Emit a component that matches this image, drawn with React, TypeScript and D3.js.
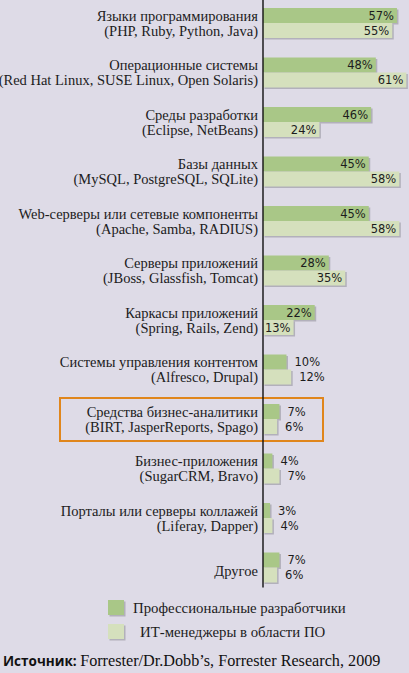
import React, { useEffect, useRef } from 'react';
import * as d3 from 'd3';

const categories = [
  'Языки программирования',
  'Операционные системы',
  'Среды разработки',
  'Базы данных',
  'Web-серверы или сетевые компоненты',
  'Серверы приложений',
  'Каркасы приложений',
  'Системы управления контентом',
  'Средства бизнес-аналитики',
  'Бизнес-приложения',
  'Порталы или серверы коллажей',
  'Другое',
];

const examples = [
  '(PHP, Ruby, Python, Java)',
  '(Red Hat Linux, SUSE Linux, Open Solaris)',
  '(Eclipse, NetBeans)',
  '(MySQL, PostgreSQL, SQLite)',
  '(Apache, Samba, RADIUS)',
  '(JBoss, Glassfish, Tomcat)',
  '(Spring, Rails, Zend)',
  '(Alfresco, Drupal)',
  '(BIRT, JasperReports, Spago)',
  '(SugarCRM, Bravo)',
  '(Liferay, Dapper)',
  '',
];

const proDevelopers = [57, 48, 46, 45, 45, 28, 22, 10, 7, 4, 3, 7];
const itManagers = [55, 61, 24, 58, 58, 35, 13, 12, 6, 7, 4, 6];

const seriesNames = ['Профессиональные разработчики', 'ИТ-менеджеры в области ПО'];
const highlighted = 'Средства бизнес-аналитики';

const WIDTH = 409;
const HEIGHT = 673;
const AXIS_X = 263;

const BG = '#dedbe7';
const COLORS = ['#a9c787', '#d5e0bd'];
const SHADOW = '#8e8c98';
const INK = '#1c1c1c';
const ORANGE = '#e0861c';
const SERIF = '"Liberation Serif", "Times New Roman", serif';
const SANS = '"Open Sans", "DejaVu Sans", sans-serif';
const VALUE_FONT = '"DejaVu Sans", sans-serif';

const App: React.FC = () => {
  const svgRef = useRef<SVGSVGElement>(null);

  useEffect(() => {
    if (!svgRef.current) return;
    const svg = d3.select(svgRef.current);
    svg.selectAll('*').remove();
    svg.attr('width', WIDTH).attr('height', HEIGHT).attr('viewBox', `0 0 ${WIDTH} ${HEIGHT}`);

    svg.append('rect').attr('width', WIDTH).attr('height', HEIGHT).attr('fill', BG);

    const y = d3
      .scaleBand()
      .domain(categories)
      .range([8, 8 + 12 * 49.5 - 19.5])
      .paddingInner(0.394)
      .paddingOuter(0);
    const sub = d3.scaleBand().domain(['0', '1']).range([0, y.bandwidth()]);
    const x = d3.scaleLinear().domain([0, 100]).range([0, 235]);

    const rows = categories.map((c, i) => ({
      category: c,
      example: examples[i],
      values: [proDevelopers[i], itManagers[i]],
    }));

    const bars = svg.append('g');
    const texts = svg.append('g');

    const label = (tx: number, ty: number, str: string) =>
      texts
        .append('text')
        .attr('x', tx)
        .attr('y', ty)
        .attr('dy', '0.35em')
        .attr('text-anchor', 'end')
        .style('font-family', SERIF)
        .style('font-size', '14.5px')
        .style('fill', INK)
        .text(str);

    rows.forEach(row => {
      const top = y(row.category) || 0;
      row.values.forEach((v, s) => {
        const by = top + (sub(String(s)) || 0);
        const bw = x(v);
        const bh = sub.bandwidth();
        // soft drop shadow
        bars
          .append('rect')
          .attr('x', AXIS_X + 1.5)
          .attr('y', by + 1.5)
          .attr('width', bw)
          .attr('height', bh)
          .attr('fill', SHADOW)
          .attr('opacity', 0.55);
        bars
          .append('rect')
          .attr('x', AXIS_X)
          .attr('y', by)
          .attr('width', bw)
          .attr('height', bh)
          .attr('fill', COLORS[s]);

        const inside = v >= 13;
        texts
          .append('text')
          .attr('x', inside ? AXIS_X + bw - 3 : AXIS_X + bw + 8)
          .attr('y', by + bh / 2)
          .attr('dy', '0.36em')
          .attr('text-anchor', inside ? 'end' : 'start')
          .style('font-family', VALUE_FONT)
          .style('font-size', '11.5px')
          .style('fill', INK)
          .text(`${v}%`);
      });

      const labelX = AXIS_X - 5;
      if (row.example) {
        label(labelX, top + (sub('0') || 0) + sub.bandwidth() / 2, row.category);
        label(labelX, top + (sub('1') || 0) + sub.bandwidth() / 2, row.example);
      } else {
        label(labelX, top + y.bandwidth() / 2 + 3, row.category);
      }
    });

    // highlight frame
    const hTop = y(highlighted) || 0;
    svg
      .append('rect')
      .attr('x', 60)
      .attr('y', hTop - 6)
      .attr('width', 263)
      .attr('height', y.bandwidth() + 13)
      .attr('fill', 'none')
      .attr('stroke', ORANGE)
      .attr('stroke-width', 2);

    // vertical axis
    svg
      .append('line')
      .attr('x1', AXIS_X)
      .attr('x2', AXIS_X)
      .attr('y1', 0)
      .attr('y2', (y(categories[categories.length - 1]) || 0) + y.bandwidth() + 5)
      .attr('stroke', '#111')
      .attr('stroke-width', 1.4);

    // legend
    const legend = svg.append('g').attr('transform', 'translate(108,600)');
    seriesNames.forEach((name, i) => {
      const g = legend.append('g').attr('transform', `translate(0,${i * 24})`);
      g.append('rect').attr('x', 1.5).attr('y', 1.5).attr('width', 16).attr('height', 15).attr('fill', SHADOW).attr('opacity', 0.55);
      g.append('rect').attr('width', 16).attr('height', 15).attr('fill', COLORS[i]);
      g.append('text')
        .attr('x', i === 0 ? 25 : 32)
        .attr('y', 7.5)
        .attr('dy', '0.35em')
        .style('font-family', SERIF)
        .style('font-size', '14.8px')
        .style('fill', INK)
        .text(name);
    });

    // source
    const src = svg
      .append('text')
      .attr('x', 3)
      .attr('y', 666)
      .style('fill', '#111');
    src.append('tspan').style('font-family', SANS).style('font-weight', 700).style('font-size', '13.5px').text('Источник: ');
    src
      .append('tspan')
      .style('font-family', SERIF)
      .style('font-size', '16.2px')
      .text('Forrester/Dr.Dobb’s, Forrester Research, 2009');
  }, []);

  return (
    <div style={{ position: 'absolute', left: 0, top: 0 }}>
      <svg ref={svgRef} style={{ display: 'block' }} />
    </div>
  );
};

export default App;
